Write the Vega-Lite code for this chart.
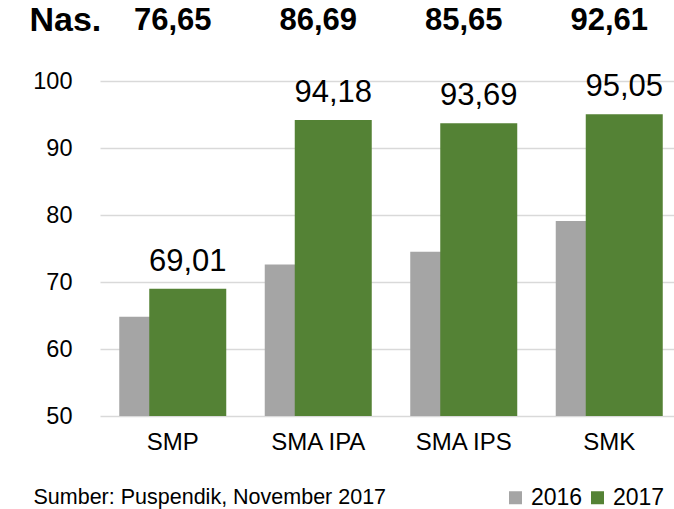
{
  "$schema": "https://vega.github.io/schema/vega-lite/v6.json",
  "autosize": {"type": "none"},
  "width": 582,
  "height": 335,
  "padding": {"left": 100, "top": 81, "right": 0, "bottom": 93},
  "background": "white",
  "config": {
    "font": "Liberation Sans",
    "view": {"stroke": null},
    "locale": {"number": {"decimal": ",", "thousands": ".", "grouping": [3], "currency": ["Rp", ""]}}
  },
  "datasets": {
    "nilai": [
      {"kat": "SMP", "tahun": "2016", "nilai": 64.8},
      {"kat": "SMP", "tahun": "2017", "nilai": 69.01},
      {"kat": "SMA IPA", "tahun": "2016", "nilai": 72.6},
      {"kat": "SMA IPA", "tahun": "2017", "nilai": 94.18},
      {"kat": "SMA IPS", "tahun": "2016", "nilai": 74.5},
      {"kat": "SMA IPS", "tahun": "2017", "nilai": 93.69},
      {"kat": "SMK", "tahun": "2016", "nilai": 79.1},
      {"kat": "SMK", "tahun": "2017", "nilai": 95.05}
    ],
    "nasional": [
      {"kat": "SMP", "nas": 76.65},
      {"kat": "SMA IPA", "nas": 86.69},
      {"kat": "SMA IPS", "nas": 85.65},
      {"kat": "SMK", "nas": 92.61}
    ]
  },
  "data": {"name": "nilai"},
  "layer": [
    {
      "transform": [{"filter": "datum.tahun == '2016'"}],
      "mark": {"type": "bar", "width": 77, "xOffset": -15},
      "encoding": {
        "x": {
          "field": "kat", "type": "nominal", "sort": ["SMP", "SMA IPA", "SMA IPS", "SMK"],
          "scale": {"paddingInner": 0, "paddingOuter": 0},
          "axis": {
            "labelAngle": 0, "labelFontSize": 24, "labelColor": "#000000", "labelPadding": 14,
            "domain": false, "ticks": false, "grid": false,
            "title": "Sumber: Puspendik, November 2017",
            "titleFontSize": 21.5, "titleFontWeight": "normal", "titleColor": "#000000",
            "titleAnchor": null, "titleAlign": "left", "titleBaseline": "alphabetic",
            "titleX": -67, "titleY": 87
          }
        },
        "y": {
          "field": "nilai", "type": "quantitative",
          "scale": {"domain": [50, 100], "nice": false, "zero": false},
          "axis": {
            "values": [50, 60, 70, 80, 90, 100], "format": "d",
            "labelFontSize": 23.5, "labelColor": "#000000", "labelPadding": 28,
            "domain": false, "ticks": false, "grid": true, "gridColor": "#d9d9d9", "gridWidth": 1.3,
            "title": "Nas.", "titleFontSize": 34, "titleFontWeight": "bold", "titleColor": "#000000",
            "titleAngle": 0, "titleAnchor": null, "titleAlign": "left", "titleBaseline": "alphabetic",
            "titleX": -71, "titleY": -51
          }
        },
        "y2": {"datum": 50},
        "color": {
          "field": "tahun", "type": "nominal",
          "scale": {"domain": ["2016", "2017"], "range": ["#a5a5a5", "#548235"]},
          "legend": {
            "title": null, "orient": "none", "direction": "horizontal",
            "legendX": 404, "legendY": 405,
            "symbolType": "square", "symbolSize": 169, "symbolStrokeWidth": 0,
            "labelFontSize": 23, "labelColor": "#000000", "labelOffset": 4, "columnPadding": 3
          }
        }
      }
    },
    {
      "transform": [{"filter": "datum.tahun == '2017'"}],
      "mark": {"type": "bar", "width": 77, "xOffset": 15},
      "encoding": {
        "x": {"field": "kat", "type": "nominal", "sort": ["SMP", "SMA IPA", "SMA IPS", "SMK"]},
        "y": {"field": "nilai", "type": "quantitative"},
        "y2": {"datum": 50},
        "color": {"field": "tahun", "type": "nominal"}
      }
    },
    {
      "transform": [{"filter": "datum.tahun == '2017'"}],
      "mark": {"type": "text", "xOffset": 15, "dy": -18, "baseline": "alphabetic", "align": "center", "fontSize": 31, "color": "#000000"},
      "encoding": {
        "x": {"field": "kat", "type": "nominal", "sort": ["SMP", "SMA IPA", "SMA IPS", "SMK"]},
        "y": {"field": "nilai", "type": "quantitative"},
        "text": {"field": "nilai", "type": "quantitative", "format": ".2f"}
      }
    },
    {
      "data": {"name": "nasional"},
      "mark": {"type": "text", "baseline": "alphabetic", "align": "center", "fontSize": 31, "fontWeight": "bold", "color": "#000000"},
      "encoding": {
        "x": {"field": "kat", "type": "nominal", "sort": ["SMP", "SMA IPA", "SMA IPS", "SMK"]},
        "y": {"datum": 107.6},
        "text": {"field": "nas", "type": "quantitative", "format": ".2f"}
      }
    }
  ]
}
